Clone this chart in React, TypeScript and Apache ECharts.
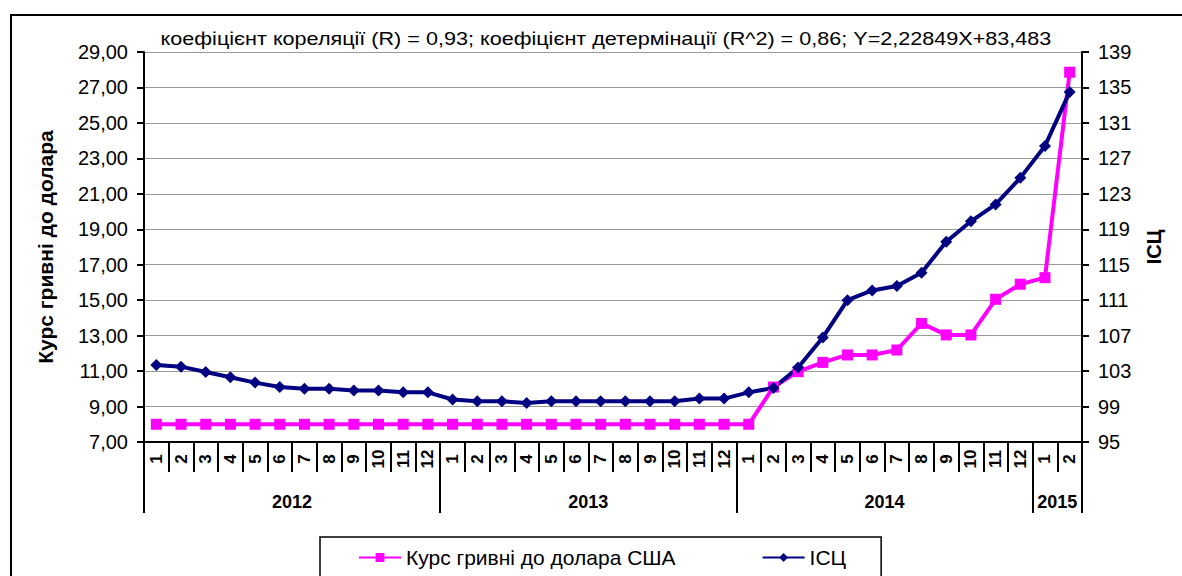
import React, { useEffect, useRef } from 'react';
import * as echarts from 'echarts';

const monthLabels = [
  '1', '2', '3', '4', '5', '6', '7', '8', '9', '10', '11', '12',
  '1', '2', '3', '4', '5', '6', '7', '8', '9', '10', '11', '12',
  '1', '2', '3', '4', '5', '6', '7', '8', '9', '10', '11', '12',
  '1', '2',
];
const yearLabels = ['2012', '2013', '2014', '2015'];
const monthsPerYear = [12, 12, 12, 2];

const exchangeRate = [
  8.0, 8.0, 8.0, 8.0, 8.0, 8.0, 8.0, 8.0, 8.0, 8.0, 8.0, 8.0,
  8.0, 8.0, 8.0, 8.0, 8.0, 8.0, 8.0, 8.0, 8.0, 8.0, 8.0, 8.0,
  8.0, 10.1, 10.97, 11.49, 11.91, 11.91, 12.19, 13.69, 13.04, 13.04, 15.05, 15.9,
  16.27, 27.86,
];
const cpi = [
  103.7, 103.5, 102.9, 102.3, 101.7, 101.2, 101.0, 101.0, 100.8, 100.8, 100.6, 100.6,
  99.8, 99.6, 99.6, 99.4, 99.6, 99.6, 99.6, 99.6, 99.6, 99.6, 99.9, 99.9,
  100.6, 101.1, 103.4, 106.8, 111.0, 112.1, 112.6, 114.1, 117.6, 119.9, 121.8, 124.8,
  128.4, 134.5,
];

const leftAxis = { min: 7, max: 29, step: 2 };
const rightAxis = { min: 95, max: 139, step: 4 };

const seriesNames = ['Курс гривні до долара США', 'ІСЦ'];
const titleText =
  'коефіцієнт кореляції (R) = 0,93; коефіцієнт детермінації (R^2) = 0,86; Y=2,22849X+83,483';
const leftAxisName = 'Курс гривні до долара';
const rightAxisName = 'ІСЦ';

const FONT = "'Liberation Sans', Arial, sans-serif";

export default function App() {
  const ref = useRef<HTMLDivElement>(null);

  useEffect(() => {
    if (!ref.current) return;
    const chart = echarts.init(ref.current, null, { renderer: 'svg' });

    const boundaries: number[] = [0];
    monthsPerYear.forEach((n) => boundaries.push(boundaries[boundaries.length - 1] + n));
    const mids: number[] = [];
    for (let i = 0; i < monthsPerYear.length; i++) mids.push((boundaries[i] + boundaries[i + 1]) / 2);
    const total = boundaries[boundaries.length - 1];

    const option: any = {
      animation: false,
      backgroundColor: '#fff',
      textStyle: { fontFamily: FONT },
      grid: { left: 144, right: 100, top: 52, bottom: 134, containLabel: false },
      graphic: [
        {
          type: 'rect',
          shape: { x: 11, y: 15, width: 1200, height: 620 },
          style: { fill: 'none', stroke: '#000', lineWidth: 2 },
          silent: true,
        },
        {
          type: 'text',
          x: 606,
          y: 39,
          scaleX: 1.2,
          style: {
            text: titleText,
            fill: '#000',
            font: `18px ${FONT}`,
            align: 'center',
            verticalAlign: 'middle',
          },
        },
      ],
      legend: {
        left: 320,
        top: 537,
        data: seriesNames,
        itemWidth: 42,
        itemHeight: 11,
        itemGap: 86,
        padding: [10, 35, 24, 38],
        borderColor: '#000',
        borderWidth: 1.5,
        textStyle: { fontSize: 21, color: '#000', fontFamily: FONT },
      },
      xAxis: [
        {
          type: 'category',
          data: monthLabels,
          position: 'bottom',
          boundaryGap: true,
          axisLine: { show: true, lineStyle: { color: '#000', width: 2 } },
          axisTick: { show: true, interval: 0, length: 30, lineStyle: { color: '#000', width: 2 } },
          axisLabel: {
            interval: 0,
            rotate: 90,
            align: 'center',
            verticalAlign: 'middle',
            margin: 17,
            color: '#000',
            fontWeight: 'bold',
            fontSize: 17,
            fontFamily: FONT,
          },
          splitLine: { show: false },
        },
        {
          type: 'value',
          min: 0,
          max: total,
          position: 'bottom',
          axisLine: { show: false },
          axisTick: {
            show: true,
            customValues: boundaries,
            length: 71,
            lineStyle: { color: '#000', width: 2 },
          },
          axisLabel: {
            customValues: mids,
            formatter: (v: number) => {
              const i = mids.findIndex((m) => Math.abs(m - v) < 1e-6);
              return i >= 0 ? yearLabels[i] : '';
            },
            margin: 51,
            color: '#000',
            fontWeight: 'bold',
            fontSize: 18,
            fontFamily: FONT,
          },
          splitLine: { show: false },
        },
      ],
      yAxis: [
        {
          type: 'value',
          min: leftAxis.min,
          max: leftAxis.max,
          interval: leftAxis.step,
          position: 'left',
          name: leftAxisName,
          nameLocation: 'middle',
          nameRotate: 90,
          nameGap: 88,
          nameTextStyle: { fontSize: 21, fontWeight: 'bold', color: '#000', fontFamily: FONT },
          axisLine: { show: true, lineStyle: { color: '#000', width: 2 } },
          axisTick: { show: true, length: 7, lineStyle: { color: '#000', width: 2 } },
          axisLabel: {
            margin: 16,
            color: '#000',
            fontSize: 20,
            fontFamily: FONT,
            formatter: (v: number) => v.toFixed(2).replace('.', ','),
          },
          splitLine: { show: true, lineStyle: { color: '#9a9a9a', width: 1 } },
        },
        {
          type: 'value',
          min: rightAxis.min,
          max: rightAxis.max,
          interval: rightAxis.step,
          position: 'right',
          name: rightAxisName,
          nameLocation: 'middle',
          nameRotate: 90,
          nameGap: 62,
          nameTextStyle: { fontSize: 20, fontWeight: 'bold', color: '#000', fontFamily: FONT },
          axisLine: { show: true, lineStyle: { color: '#000', width: 2 } },
          axisTick: { show: true, length: 7, lineStyle: { color: '#000', width: 2 } },
          axisLabel: { margin: 16, color: '#000', fontSize: 20, fontFamily: FONT },
          splitLine: { show: false },
        },
      ],
      series: [
        {
          name: seriesNames[0],
          type: 'line',
          xAxisIndex: 0,
          yAxisIndex: 0,
          data: exchangeRate,
          symbol: 'rect',
          symbolSize: 11,
          lineStyle: { color: '#ff00ff', width: 4 },
          itemStyle: { color: '#ff00ff' },
        },
        {
          name: seriesNames[1],
          type: 'line',
          xAxisIndex: 0,
          yAxisIndex: 1,
          data: cpi,
          symbol: 'diamond',
          symbolSize: 12,
          lineStyle: { color: '#000080', width: 4 },
          itemStyle: { color: '#000080' },
        },
      ],
    };

    chart.setOption(option);
    return () => chart.dispose();
  }, []);

  return (
    <div
      ref={ref}
      style={{ position: 'absolute', left: 0, top: 0, width: 1182, height: 576 }}
    />
  );
}
